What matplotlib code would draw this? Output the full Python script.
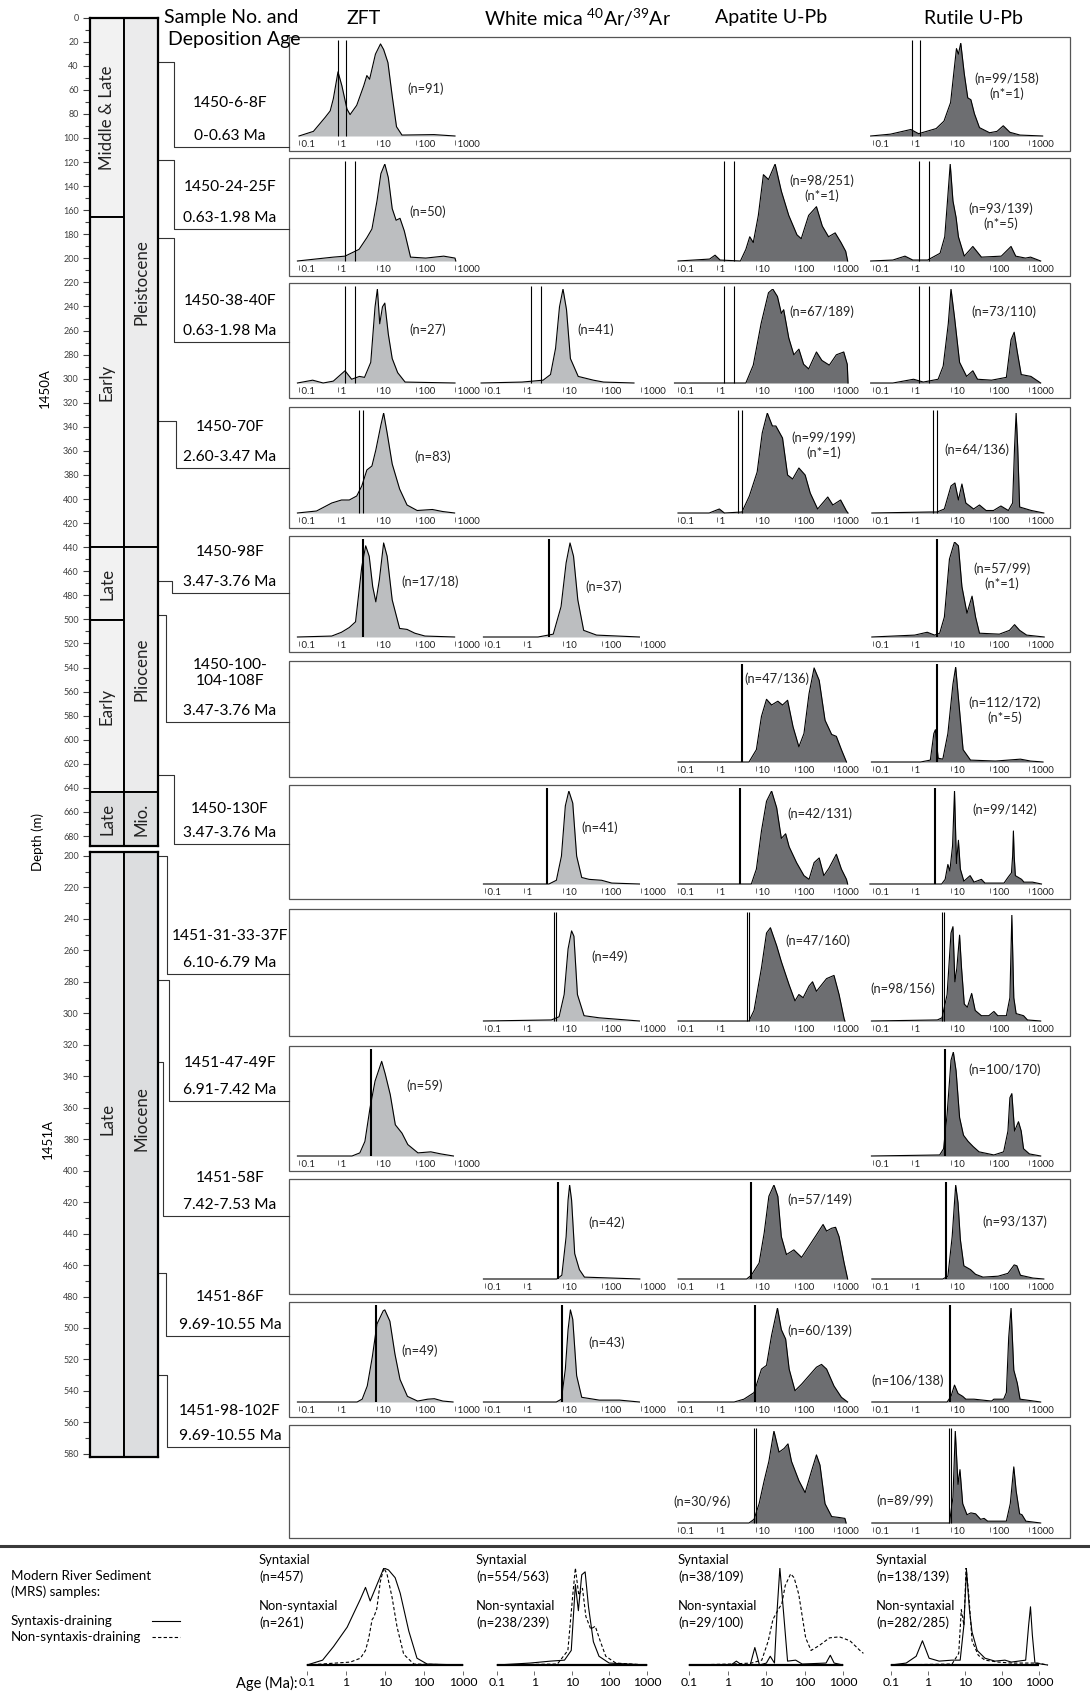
"""
Detrital age KDE panels (ZFT, white mica Ar-Ar, apatite and rutile U-Pb)
for IODP Sites 1450A / 1451A, with stratigraphic column and modern river samples.
"""

import numpy as np
import matplotlib.pyplot as plt
from matplotlib.patches import Rectangle
from matplotlib.ticker import MultipleLocator, NullLocator

plt.rcParams.update({
    "font.family": ["Lato", "DejaVu Sans"],
    "mathtext.fontset": "custom",
    "mathtext.rm": "Lato",
    "mathtext.it": "Lato:italic",
    "mathtext.bf": "Lato:bold",
})

W, H = 1090, 1692  # output pixels at dpi 100

# ------------------------------------------------------------------ data
SAMPLE_IDS = ["1450-6-8F", "1450-24-25F", "1450-38-40F", "1450-70F", "1450-98F",
              "1450-100-\n104-108F", "1450-130F", "1451-31-33-37F", "1451-47-49F",
              "1451-58F", "1451-86F", "1451-98-102F"]
DEPO_AGES = ["0-0.63 Ma", "0.63-1.98 Ma", "0.63-1.98 Ma", "2.60-3.47 Ma", "3.47-3.76 Ma",
             "3.47-3.76 Ma", "3.47-3.76 Ma", "6.10-6.79 Ma", "6.91-7.42 Ma",
             "7.42-7.53 Ma", "9.69-10.55 Ma", "9.69-10.55 Ma"]
SAMPLE_HOLE = ["1450A"] * 7 + ["1451A"] * 5
SAMPLE_DEPTH_M = [36.6, 118, 183, 335, 468, 496, 629, 200, 279, 331, 465, 530]
# vertical reference lines drawn in every panel of a row (Ma)
LAG_AGES = [[1.0, 1.6], [1.5, 2.8], [1.5, 2.8], [3.4, 4.3], [4.4], [4.3], [4.0],
            [6.0, 6.8], [7.1], [7.6], [9.3], [9.1, 10.2]]

# stratigraphy (depth, m)
EPOCH_1450A = ["Middle & Late", "Early", "Late", "Early", "Late"]
EPOCH_1450A_TOP = [0, 165.7, 440, 500.5, 643.5]
EPOCH_1450A_BASE = [165.7, 440, 500.5, 643.5, 688.3]
PERIOD_1450A = ["Pleistocene", "Pliocene", "Mio."]
PERIOD_1450A_TOP = [0, 440, 643.5]
PERIOD_1450A_BASE = [440, 643.5, 688.3]
EPOCH_1451A = ["Late"]
EPOCH_1451A_TOP = [197.5]
EPOCH_1451A_BASE = [582]
PERIOD_1451A = ["Miocene"]
LABEL_DEPTH_1451A = [367]

AGE_TICKS = [0.1, 1, 10, 100, 1000]
AGE_TICK_LABELS = ["0.1", "1", "10", "100", "1000"]

# KDE curves: (log10 age [Ma], relative density)
ZFT_1 = [(-1.0, 0), (-0.63, 0.05), (-0.33, 0.2), (-0.2, 0.27), (-0.12, 0.4), (0.0, 0.69),
         (0.1, 0.54), (0.23, 0.29), (0.31, 0.23), (0.48, 0.33), (0.66, 0.54), (0.74, 0.65),
         (0.81, 0.61), (0.96, 0.88), (1.09, 0.99), (1.17, 0.93), (1.28, 0.79), (1.39, 0.43),
         (1.5, 0.1), (1.64, 0.01), (2.46, 0.015), (3.0, 0)]
RU_1 = [(-1.06, 0), (-0.55, 0.02), (-0.03, 0.07), (0.17, 0.025), (0.62, 0.08), (0.82, 0.16),
        (0.99, 0.36), (1.08, 0.71), (1.14, 0.94), (1.19, 0.88), (1.25, 1.0), (1.34, 0.67),
        (1.43, 0.41), (1.51, 0.39), (1.6, 0.24), (1.73, 0.09), (1.99, 0.035), (2.18, 0.05),
        (2.34, 0.11), (2.51, 0.04), (2.77, 0.01), (3.35, 0)]

ZFT_2 = [(-1.04, 0), (-0.12, 0.04), (0.18, 0.05), (0.54, 0.12), (0.74, 0.24), (0.87, 0.33),
         (1.0, 0.62), (1.1, 0.9), (1.2, 1.0), (1.29, 0.86), (1.39, 0.54), (1.49, 0.42),
         (1.59, 0.44), (1.7, 0.31), (1.86, 0.04), (2.25, 0.03), (2.71, 0.05), (3.0, 0.03),
         (3.02, 0)]
AP_2 = [(-1.0, 0), (-0.19, 0.02), (-0.05, 0.06), (0.08, 0.01), (0.6, 0.0), (0.74, 0.12),
        (0.84, 0.25), (0.93, 0.19), (1.06, 0.47), (1.19, 0.89), (1.32, 0.84), (1.49, 1.0),
        (1.65, 0.72), (1.84, 0.47), (2.05, 0.27), (2.16, 0.23), (2.35, 0.47), (2.55, 0.56),
        (2.7, 0.36), (2.86, 0.25), (3.03, 0.29), (3.18, 0.19), (3.3, 0.1), (3.35, 0)]
RU_2 = [(-1.06, 0), (-0.49, 0.01), (-0.18, 0.05), (0.02, 0.01), (0.4, 0.01), (0.72, 0.08),
        (0.84, 0.25), (0.91, 0.62), (0.98, 1.0), (1.05, 0.62), (1.13, 0.45), (1.19, 0.25),
        (1.34, 0.05), (1.56, 0.15), (1.78, 0.04), (2.29, 0.05), (2.54, 0.15), (2.66, 0.05),
        (2.91, 0.03), (3.04, 0.04), (3.3, 0)]

ZFT_3 = [(-1.04, 0), (-0.65, 0.03), (-0.38, 0.0), (-0.12, 0.02), (0.18, 0.13), (0.35, 0.04),
         (0.55, 0.07), (0.68, 0.06), (0.84, 0.22), (0.95, 0.81), (1.01, 1.0), (1.07, 0.63),
         (1.14, 0.81), (1.2, 0.85), (1.29, 0.52), (1.39, 0.26), (1.53, 0.11), (1.72, 0.01),
         (3.0, 0)]
WM_3 = [(-1.1, 0), (-0.05, 0.01), (0.49, 0.03), (0.68, 0.09), (0.81, 0.37), (0.91, 0.81),
        (1.0, 1.0), (1.09, 0.78), (1.19, 0.26), (1.39, 0.07), (1.78, 0.03), (2.04, 0.01),
        (2.82, 0)]
AP_3 = [(-1.09, 0), (0.74, 0), (0.93, 0.19), (1.13, 0.63), (1.32, 0.96), (1.43, 1.0),
        (1.55, 0.92), (1.65, 0.74), (1.71, 0.78), (1.84, 0.48), (1.97, 0.3), (2.1, 0.36),
        (2.22, 0.2), (2.35, 0.15), (2.55, 0.33), (2.69, 0.24), (2.88, 0.19), (3.06, 0.3),
        (3.25, 0.33), (3.34, 0.2), (3.36, 0)]
RU_3 = [(-1.06, 0), (-0.49, 0), (0.04, 0.04), (0.29, 0.01), (0.67, 0.04), (0.8, 0.18),
        (0.93, 0.63), (1.0, 1.0), (1.09, 0.7), (1.22, 0.22), (1.4, 0.07), (1.56, 0.13),
        (1.68, 0.04), (2.04, 0.03), (2.42, 0.06), (2.54, 0.46), (2.62, 0.54), (2.7, 0.33),
        (2.8, 0.09), (3.05, 0.07), (3.3, 0)]

ZFT_4 = [(-1.04, 0), (-0.55, 0.02), (-0.16, 0.1), (0.09, 0.13), (0.29, 0.13), (0.48, 0.17),
         (0.61, 0.27), (0.74, 0.43), (0.87, 0.47), (0.97, 0.63), (1.1, 0.88), (1.17, 1.0),
         (1.26, 0.8), (1.39, 0.49), (1.58, 0.24), (1.77, 0.08), (2.03, 0.025), (2.42, 0.035),
         (2.68, 0.015), (2.99, 0)]
AP_4 = [(-1.0, 0), (-0.2, 0), (0.06, 0.04), (0.19, 0.0), (0.64, 0.01), (0.83, 0.17),
        (1.03, 0.41), (1.16, 0.8), (1.29, 1.0), (1.42, 0.87), (1.51, 0.87), (1.68, 0.75),
        (1.81, 0.38), (1.94, 0.34), (2.1, 0.45), (2.26, 0.38), (2.39, 0.2), (2.58, 0.04),
        (2.84, 0.16), (2.97, 0.08), (3.17, 0.13), (3.32, 0.02), (3.36, 0)]
RU_4 = [(-1.03, 0), (0.45, 0.01), (0.64, 0.01), (0.83, 0.04), (1.0, 0.27), (1.1, 0.3),
        (1.19, 0.13), (1.28, 0.29), (1.38, 0.1), (1.58, 0.04), (1.73, 0.08), (1.9, 0.025),
        (2.09, 0.025), (2.28, 0.07), (2.47, 0.025), (2.58, 0.1), (2.63, 0.66), (2.67, 1.0),
        (2.71, 0.66), (2.76, 0.06), (3.06, 0.025), (3.38, 0)]

ZFT_5 = [(-1.04, 0), (-0.16, 0.01), (0.09, 0.05), (0.29, 0.1), (0.45, 0.16), (0.61, 0.74),
         (0.71, 0.96), (0.8, 0.85), (0.89, 0.53), (0.97, 0.37), (1.06, 0.6), (1.17, 0.99),
         (1.26, 0.85), (1.39, 0.39), (1.58, 0.09), (1.77, 0.08), (1.97, 0.04), (2.23, 0.01),
         (2.99, 0)]
WM_5 = [(-1.04, 0), (0.36, 0), (0.75, 0.03), (0.95, 0.32), (1.08, 0.78), (1.18, 0.99),
        (1.27, 0.85), (1.38, 0.39), (1.53, 0.07), (1.86, 0.02), (2.96, 0)]
RU_5 = [(-1.03, 0), (0.07, 0.02), (0.39, 0.05), (0.58, 0.02), (0.71, 0.04), (0.83, 0.21),
        (0.96, 0.82), (1.09, 1.0), (1.19, 0.96), (1.28, 0.53), (1.41, 0.25), (1.54, 0.43),
        (1.63, 0.21), (1.73, 0.04), (2.24, 0.03), (2.5, 0.07), (2.63, 0.13), (2.76, 0.07),
        (2.94, 0.02), (3.39, 0)]

AP_6 = [(-1.0, 0), (0.82, 0), (1.01, 0.13), (1.14, 0.48), (1.27, 0.66), (1.4, 0.6),
        (1.56, 0.64), (1.68, 0.6), (1.81, 0.65), (1.95, 0.37), (2.1, 0.16), (2.23, 0.3),
        (2.36, 0.72), (2.49, 0.99), (2.62, 0.86), (2.77, 0.44), (2.94, 0.29), (3.06, 0.27),
        (3.19, 0.13), (3.32, 0)]
RU_6 = [(-1.04, 0), (0.22, 0), (0.47, 0.02), (0.56, 0.3), (0.6, 0.34), (0.67, 0.04),
        (0.79, 0.03), (0.92, 0.3), (1.05, 0.82), (1.12, 1.0), (1.18, 0.72), (1.31, 0.13),
        (1.5, 0.02), (2.14, 0.01), (2.78, 0.03), (3.04, 0.01), (3.36, 0)]

WM_7 = [(-1.04, 0), (0.64, 0), (0.83, 0.04), (0.96, 0.3), (1.06, 0.84), (1.15, 1.0),
        (1.25, 0.87), (1.35, 0.3), (1.48, 0.07), (1.67, 0.05), (1.99, 0.04), (2.25, 0.01),
        (2.96, 0)]
AP_7 = [(-1.0, 0), (0.88, 0), (1.01, 0.16), (1.14, 0.57), (1.27, 0.89), (1.4, 1.0),
        (1.53, 0.82), (1.65, 0.49), (1.76, 0.54), (1.85, 0.4), (2.04, 0.23), (2.23, 0.09),
        (2.36, 0.05), (2.49, 0.23), (2.62, 0.28), (2.74, 0.09), (2.87, 0.17), (3.06, 0.32),
        (3.19, 0.16), (3.32, 0.05), (3.35, 0)]
RU_7 = [(-1.08, 0), (0.76, 0), (0.85, 0.05), (0.92, 0.21), (0.97, 0.14), (1.04, 0.41),
        (1.09, 1.0), (1.14, 0.22), (1.19, 0.47), (1.24, 0.16), (1.33, 0.03), (1.49, 0.09),
        (1.59, 0.02), (1.78, 0.05), (1.87, 0.01), (2.36, 0.01), (2.46, 0.07), (2.55, 0.12),
        (2.58, 0.3), (2.6, 0.57), (2.62, 0.3), (2.65, 0.09), (2.81, 0.05), (2.87, 0.02),
        (3.09, 0.02), (3.32, 0)]

WM_8 = [(-1.04, 0), (0.7, 0.01), (0.9, 0.04), (1.03, 0.25), (1.13, 0.68), (1.22, 0.85),
        (1.28, 0.8), (1.37, 0.25), (1.54, 0.05), (1.93, 0.03), (2.96, 0)]
AP_8 = [(-1.0, 0), (0.82, 0), (0.95, 0.1), (1.14, 0.5), (1.27, 0.83), (1.37, 0.88),
        (1.53, 0.71), (1.65, 0.56), (1.85, 0.34), (2.0, 0.19), (2.1, 0.25), (2.21, 0.22),
        (2.36, 0.33), (2.45, 0.37), (2.55, 0.28), (2.68, 0.34), (2.81, 0.4), (3.0, 0.43),
        (3.13, 0.25), (3.26, 0.02), (3.28, 0)]
RU_8 = [(-1.04, 0), (0.65, 0.01), (0.77, 0.03), (0.9, 0.25), (1.0, 0.83), (1.05, 0.89),
        (1.1, 0.37), (1.15, 0.5), (1.22, 0.81), (1.27, 0.5), (1.34, 0.16), (1.42, 0.13),
        (1.53, 0.26), (1.62, 0.1), (1.78, 0.05), (1.97, 0.05), (2.1, 0.09), (2.2, 0.05),
        (2.42, 0.05), (2.51, 0.22), (2.56, 1.0), (2.61, 0.22), (2.67, 0.07), (2.86, 0.05),
        (2.96, 0.01), (3.3, 0)]

ZFT_9 = [(-1.04, 0), (0.36, 0), (0.56, 0.03), (0.69, 0.14), (0.82, 0.46), (0.95, 0.72),
         (1.12, 0.91), (1.21, 0.79), (1.34, 0.59), (1.47, 0.3), (1.64, 0.22), (1.79, 0.11),
         (2.05, 0.03), (2.38, 0.04), (2.64, 0.02), (2.96, 0)]
RU_9 = [(-1.04, 0), (0.71, 0.01), (0.81, 0.07), (0.9, 0.4), (1.0, 0.92), (1.06, 1.0),
        (1.13, 0.82), (1.22, 0.37), (1.32, 0.2), (1.44, 0.14), (1.57, 0.09), (1.72, 0.04),
        (2.1, 0.01), (2.35, 0.04), (2.46, 0.24), (2.51, 0.56), (2.56, 0.6), (2.63, 0.24),
        (2.73, 0.33), (2.8, 0.24), (2.86, 0.07), (3.01, 0.02), (3.3, 0)]

WM_10 = [(-1.04, 0), (0.84, 0), (0.97, 0.04), (1.08, 0.45), (1.13, 0.84), (1.17, 1.0),
         (1.22, 0.84), (1.3, 0.27), (1.42, 0.1), (1.55, 0.02), (2.97, 0)]
AP_10 = [(-1.0, 0), (0.76, 0), (0.88, 0.04), (1.08, 0.17), (1.21, 0.49), (1.33, 0.88),
         (1.46, 1.0), (1.56, 0.88), (1.65, 0.45), (1.78, 0.26), (1.97, 0.31), (2.17, 0.23),
         (2.36, 0.35), (2.55, 0.47), (2.72, 0.58), (2.81, 0.51), (2.94, 0.54), (3.04, 0.55),
         (3.13, 0.45), (3.26, 0.17), (3.35, 0)]
RU_10 = [(-1.03, 0), (0.79, 0), (0.92, 0.03), (1.03, 0.45), (1.12, 1.0), (1.18, 0.81),
         (1.24, 0.42), (1.33, 0.14), (1.5, 0.1), (1.63, 0.05), (1.82, 0.02), (2.21, 0.03),
         (2.46, 0.06), (2.62, 0.15), (2.69, 0.14), (2.78, 0.04), (3.1, 0.01), (3.38, 0)]

ZFT_11 = [(-1.04, 0), (0.49, 0), (0.62, 0.03), (0.75, 0.17), (0.88, 0.48), (1.0, 0.83),
          (1.16, 0.97), (1.2, 0.98), (1.33, 0.86), (1.46, 0.51), (1.59, 0.24), (1.78, 0.06),
          (2.04, 0.01), (2.3, 0.03), (2.47, 0.035), (2.69, 0.01), (2.95, 0)]
WM_11 = [(-1.04, 0), (0.83, 0), (0.96, 0.03), (1.06, 0.35), (1.13, 0.77), (1.19, 0.98),
         (1.25, 0.88), (1.35, 0.28), (1.48, 0.05), (1.93, 0.02), (2.45, 0.02), (2.96, 0)]
AP_11 = [(-1.0, 0), (0.44, 0), (0.69, 0.03), (0.95, 0.1), (1.14, 0.35), (1.27, 0.39),
         (1.4, 0.71), (1.55, 1.0), (1.65, 0.77), (1.76, 0.67), (1.85, 0.35), (2.0, 0.12),
         (2.17, 0.19), (2.36, 0.28), (2.55, 0.37), (2.68, 0.4), (2.81, 0.35), (3.0, 0.17),
         (3.19, 0.05), (3.35, 0)]
RU_11 = [(-1.03, 0), (0.9, 0), (1.0, 0.06), (1.09, 0.18), (1.18, 0.09), (1.3, 0.06),
         (1.38, 0.03), (1.59, 0.03), (2.04, 0.01), (2.1, 0.03), (2.35, 0.03), (2.42, 0.1),
         (2.48, 0.69), (2.54, 1.0), (2.61, 0.34), (2.7, 0.2), (2.77, 0.03), (3.3, 0)]

AP_12 = [(-1.0, 0), (0.82, 0), (0.95, 0.04), (1.08, 0.21), (1.21, 0.46), (1.33, 0.67),
         (1.46, 1.0), (1.59, 0.77), (1.72, 0.81), (1.82, 0.86), (1.91, 0.67), (2.1, 0.46),
         (2.26, 0.33), (2.42, 0.56), (2.55, 0.74), (2.64, 0.63), (2.77, 0.21), (2.94, 0.07),
         (3.13, 0.06), (3.28, 0.05), (3.31, 0)]
RU_12 = [(-1.03, 0), (0.96, 0), (1.05, 0.28), (1.11, 1.0), (1.18, 0.42), (1.23, 0.58),
         (1.3, 0.21), (1.41, 0.09), (1.51, 0.11), (1.63, 0.1), (1.76, 0.04), (1.85, 0.05),
         (1.94, 0.02), (2.42, 0.02), (2.52, 0.21), (2.61, 0.61), (2.67, 0.35), (2.76, 0.1),
         (2.82, 0.09), (2.92, 0.02), (3.3, 0)]

# modern river sediment: syntaxis-draining (solid) / non-syntaxis (dashed)
MRS_ZFT_SYN = [(-1.0, 0), (-0.6, 0.05), (-0.32, 0.19), (0.03, 0.39), (0.37, 0.68), (0.5, 0.8),
               (0.62, 0.66), (0.97, 1.0), (1.09, 0.98), (1.26, 0.9), (1.39, 0.74),
               (1.61, 0.35), (1.82, 0.07), (2.08, 0.01), (3.0, 0)]
MRS_ZFT_NON = [(-1.0, 0), (0.11, 0.03), (0.37, 0.07), (0.5, 0.15), (0.58, 0.27), (0.67, 0.47),
               (0.71, 0.49), (0.79, 0.58), (0.88, 0.86), (0.97, 1.0), (1.05, 0.94),
               (1.18, 0.7), (1.31, 0.39), (1.48, 0.11), (1.74, 0.01), (3.0, 0)]
MRS_WM_SYN = [(-1.0, 0), (-0.12, 0.02), (0.43, 0.04), (0.8, 0.05), (0.98, 0.15), (1.09, 0.83),
              (1.17, 0.56), (1.26, 0.93), (1.35, 0.96), (1.44, 0.6), (1.57, 0.24),
              (1.72, 0.09), (1.99, 0.02), (3.0, 0)]
MRS_WM_NON = [(-1.0, 0), (0.61, 0.01), (0.89, 0.15), (1.02, 0.72), (1.09, 1.0), (1.18, 0.72),
              (1.28, 0.79), (1.37, 0.5), (1.5, 0.37), (1.62, 0.4), (1.75, 0.25), (1.9, 0.09),
              (2.17, 0.02), (3.0, 0)]
MRS_AP_SYN = [(-1.0, 0), (0.09, 0), (0.23, 0.04), (0.37, 0), (0.59, 0), (0.71, 0.18), (0.83, 0),
              (1.01, 0.02), (1.11, 0.09), (1.22, 0.02), (1.29, 0.57), (1.36, 1.0),
              (1.45, 0.57), (1.56, 0.04), (1.77, 0.05), (1.94, 0.01), (2.56, 0.02),
              (2.67, 0.1), (2.77, 0.02), (3.0, 0)]
MRS_AP_NON = [(-1.0, 0), (0.09, 0.01), (0.62, 0.02), (0.89, 0.05), (1.06, 0.25), (1.18, 0.47),
              (1.33, 0.58), (1.41, 0.63), (1.5, 0.82), (1.64, 0.94), (1.73, 0.9),
              (1.85, 0.73), (2.03, 0.28), (2.17, 0.15), (2.38, 0.2), (2.65, 0.28),
              (2.91, 0.29), (3.18, 0.25), (3.44, 0.15), (3.53, 0.12)]
MRS_RU_SYN = [(-1.0, 0), (-0.59, 0.02), (-0.32, 0.09), (-0.15, 0.25), (0.03, 0.07), (0.3, 0.04),
              (0.65, 0.05), (0.87, 0.05), (0.97, 0.41), (1.04, 0.98), (1.12, 0.57),
              (1.19, 0.34), (1.33, 0.15), (1.54, 0.07), (1.81, 0.04), (2.08, 0.05),
              (2.25, 0.03), (2.64, 0.05), (2.72, 0.41), (2.77, 0.6), (2.82, 0.31),
              (2.89, 0.02), (3.23, 0)]
MRS_RU_NON = [(-1.0, 0), (0.65, 0.01), (0.83, 0.12), (0.9, 0.57), (0.97, 0.41), (1.03, 1.0),
              (1.1, 0.73), (1.19, 0.25), (1.36, 0.1), (1.54, 0.05), (1.9, 0.03),
              (2.25, 0.02), (2.96, 0.02), (3.23, 0)]

MRS_SYN_N = ["(n=457)", "(n=554/563)", "(n=38/109)", "(n=138/139)"]
MRS_NON_N = ["(n=261)", "(n=238/239)", "(n=29/100)", "(n=282/285)"]

# per-row curves and counts, one list per method
ZFT_ROWS = [ZFT_1, ZFT_2, ZFT_3, ZFT_4, ZFT_5, None, None, None, ZFT_9, None, ZFT_11, None]
WM_ROWS = [None, None, WM_3, None, WM_5, None, WM_7, WM_8, None, WM_10, WM_11, None]
AP_ROWS = [None, AP_2, AP_3, AP_4, None, AP_6, AP_7, AP_8, None, AP_10, AP_11, AP_12]
RU_ROWS = [RU_1, RU_2, RU_3, RU_4, RU_5, RU_6, RU_7, RU_8, RU_9, RU_10, RU_11, RU_12]

ZFT_N = ["(n=91)", "(n=50)", "(n=27)", "(n=83)", "(n=17/18)", None, None, None,
         "(n=59)", None, "(n=49)", None]
WM_N = [None, None, "(n=41)", None, "(n=37)", None, "(n=41)", "(n=49)", None,
        "(n=42)", "(n=43)", None]
AP_N = [None, "(n=98/251)\n(n*=1)", "(n=67/189)", "(n=99/199)\n(n*=1)", None, "(n=47/136)",
        "(n=42/131)", "(n=47/160)", None, "(n=57/149)", "(n=60/139)", "(n=30/96)"]
RU_N = ["(n=99/158)\n(n*=1)", "(n=93/139)\n(n*=5)", "(n=73/110)", "(n=64/136)",
        "(n=57/99)\n(n*=1)", "(n=112/172)\n(n*=5)", "(n=99/142)", "(n=98/156)",
        "(n=100/170)", "(n=93/137)", "(n=106/138)", "(n=89/99)"]

# ------------------------------------------------------------------ layout (pixels)
ROW_TOP = [37, 158, 283, 407, 536, 661, 785, 909, 1046, 1179, 1302, 1425]
ROW_BOTTOM = [151, 276, 398, 528, 652, 777, 899, 1036, 1171, 1294, 1417, 1538]
ROW_LINE_Y = [147, 229, 342, 468, 593, 722, 844, 974, 1101, 1216, 1336, 1447]
ROW_VERT_X = [174, 174, 174, 176, 172, 166, 174, 167, 169, 163, 166, 167]
LABEL_GAP = [33, 31, 30, 30, 30, 38, 24, 27, 27, 27, 28, 25]
BOX_LEFT, BOX_RIGHT = 289, 1070
COL_LEFT, COL_RIGHT = 90, 158

PANEL_X0 = {"ZFT": 299, "WM": 485, "AP": 678, "RU": 873}   # pixel of 0.1 Ma
DECADE = 39
LOG_LO, LOG_HI = -1.35, 3.65

N_POS = {
    "ZFT": [(426, 89), (428, 212), (428, 330), (433, 457), (430, 582), None, None, None,
            (425, 1086), None, (420, 1351), None],
    "WM": [None, None, (596, 330), None, (604, 587), None, (600, 828), (610, 957), None,
           (607, 1223), (607, 1343), None],
    "AP": [None, (822, 188), (822, 312), (824, 445), None, (777, 679), (820, 814),
           (818, 941), None, (820, 1200), (820, 1331), (702, 1502)],
    "RU": [(1007, 86), (1001, 216), (1004, 312), (977, 450), (1002, 576), (1005, 710),
           (1005, 810), (903, 989), (1005, 1070), (1015, 1222), (908, 1381), (905, 1501)],
}

MRS_X0 = [307, 497, 689, 891]
MRS_DEC = [39, 37.5, 38.5, 37]
MRS_TEXT_X = [259, 476, 678, 876]
MRS_BASE, MRS_TOP = 1665, 1568

LIGHT = "#bcbec0"
DARK = "#6d6e71"

fig = plt.figure(figsize=(W / 100, H / 100), dpi=100)
bg = fig.add_axes([0, 0, 1, 1], zorder=0)
bg.set_xlim(0, W)
bg.set_ylim(H, 0)
bg.axis("off")


def px_axes(x0, y0, x1, y1, z=2):
    ax = fig.add_axes([x0 / W, 1 - y1 / H, (x1 - x0) / W, (y1 - y0) / H], zorder=z)
    ax.patch.set_alpha(0)
    return ax


# ------------------------------------------------------------------ stratigraphic columns
def strat_column(y_top, y_bot, d_top, d_bot, epochs, e_top, e_base, periods, p_top, p_base,
                 e_colors, p_colors, label_depths=None):
    ax = px_axes(COL_LEFT, y_top, COL_RIGHT, y_bot)
    ax.set_xlim(0, 2)
    ax.set_ylim(d_bot, d_top)
    for i, (lab, t, b) in enumerate(zip(epochs, e_top, e_base)):
        ax.add_patch(Rectangle((0, t), 1, b - t, facecolor=e_colors[i],
                               edgecolor="black", lw=1.4))
        yc = label_depths[i] if label_depths else (t + b) / 2
        ax.text(0.5, yc, lab, rotation=90, ha="center", va="center", fontsize=12.2,
                color="#222222")
    for i, (lab, t, b) in enumerate(zip(periods, p_top, p_base)):
        ax.add_patch(Rectangle((1, t), 1, b - t, facecolor=p_colors[i],
                               edgecolor="black", lw=1.4))
        yc = label_depths[i] if label_depths else (t + b) / 2
        ax.text(1.5, yc, lab, rotation=90, ha="center", va="center", fontsize=12.2,
                color="#222222")
    ax.set_xticks([])
    ax.yaxis.set_major_locator(MultipleLocator(20))
    ax.yaxis.set_minor_locator(MultipleLocator(10))
    ax.tick_params(axis="y", which="major", length=5, width=0.8, colors="#404040",
                   labelsize=6.5, pad=3)
    ax.tick_params(axis="y", which="minor", length=3.5, width=0.8, colors="#404040")
    for s in ax.spines.values():
        s.set_linewidth(1.6)
    return ax


col_a = strat_column(17.6, 846, 0, 688.3, EPOCH_1450A, EPOCH_1450A_TOP, EPOCH_1450A_BASE,
                     PERIOD_1450A, PERIOD_1450A_TOP, PERIOD_1450A_BASE,
                     ["#f2f2f2", "#f2f2f2", "#f2f2f2", "#f2f2f2", "#dedfe0"],
                     ["#ebebec", "#ebebec", "#dedfe0"])
col_b = strat_column(852, 1457, 197.5, 582, EPOCH_1451A, EPOCH_1451A_TOP, EPOCH_1451A_BASE,
                     PERIOD_1451A, EPOCH_1451A_TOP, EPOCH_1451A_BASE,
                     ["#e6e7e8"], ["#dcdddf"], LABEL_DEPTH_1451A)

bg.text(45, 388, "1450A", rotation=90, ha="center", va="center", fontsize=9.5)
bg.text(38, 842, "Depth (m)", rotation=90, ha="center", va="center", fontsize=9.5)
bg.text(48, 1139, "1451A", rotation=90, ha="center", va="center", fontsize=9.5)

# ------------------------------------------------------------------ headers
bg.text(164, 18, "Sample No. and", ha="left", va="center", fontsize=14)
bg.text(168, 39, "Deposition Age", ha="left", va="center", fontsize=14)
bg.text(364, 18, "ZFT", ha="center", va="center", fontsize=14)
bg.text(578, 18, "White mica $^{40}$Ar/$^{39}$Ar", ha="center", va="center", fontsize=14)
bg.text(771, 18, "Apatite U-Pb", ha="center", va="center", fontsize=14)
bg.text(974, 18, "Rutile U-Pb", ha="center", va="center", fontsize=14)


# ------------------------------------------------------------------ rows
def kde_panel(row, key, curve, fill):
    top_px = ROW_TOP[row] + 6
    base_px = ROW_BOTTOM[row] - 15
    ax_bot = base_px + 4
    x0 = PANEL_X0[key]
    ax = px_axes(x0 + (LOG_LO + 1) * DECADE, top_px, x0 + (LOG_HI + 1) * DECADE, ax_bot)
    ax.set_xscale("log")
    ax.set_xlim(10 ** LOG_LO, 10 ** LOG_HI)
    ax.set_ylim(-4 / (base_px - top_px), 1.0)
    pts = np.array(curve)
    ages = np.power(10.0, pts[:, 0])
    ax.fill_between(ages, 0, pts[:, 1], color=fill, lw=0)
    ax.plot(ages, pts[:, 1], color="black", lw=0.8, solid_joinstyle="round")
    lags = LAG_AGES[row]
    ax.vlines(lags, 0, 1.03, color="black", lw=0.8 if len(lags) > 1 else 1.5,
              clip_on=False)
    ax.set_xticks(AGE_TICKS, [" " + s for s in AGE_TICK_LABELS], ha="left")
    ax.xaxis.set_minor_locator(NullLocator())
    ax.tick_params(axis="x", direction="out", length=3.5, width=0.6, color="#555555",
                   pad=-3.5, labelsize=7, labelcolor="#222222")
    ax.set_yticks([])
    for s in ax.spines.values():
        s.set_visible(False)


for r in range(len(SAMPLE_IDS)):
    top, bot = ROW_TOP[r], ROW_BOTTOM[r]
    bg.add_patch(Rectangle((BOX_LEFT, top), BOX_RIGHT - BOX_LEFT, bot - top, fill=False,
                           edgecolor="#555555", lw=0.9))

    # connector from core depth to the sample label
    col = col_a if SAMPLE_HOLE[r] == "1450A" else col_b
    y_d = H - col.transData.transform((0, SAMPLE_DEPTH_M[r]))[1]
    xv, ly = ROW_VERT_X[r], ROW_LINE_Y[r]
    bg.plot([COL_RIGHT, xv, xv, BOX_LEFT], [y_d, y_d, ly, ly], color="#333333", lw=0.8)

    bg.text(230, ly - 11, DEPO_AGES[r], ha="center", va="center", fontsize=11.2)
    bg.text(230, ly - 11 - LABEL_GAP[r], SAMPLE_IDS[r], ha="center", va="center",
            fontsize=11.2, linespacing=1.25)

    for key, rows, labels, fill in (("ZFT", ZFT_ROWS, ZFT_N, LIGHT),
                                    ("WM", WM_ROWS, WM_N, LIGHT),
                                    ("AP", AP_ROWS, AP_N, DARK),
                                    ("RU", RU_ROWS, RU_N, DARK)):
        if rows[r] is None:
            continue
        kde_panel(r, key, rows[r], fill)
        nx, ny = N_POS[key][r]
        bg.text(nx, ny, labels[r], ha="center", va="center", fontsize=9.3,
                linespacing=1.2, color="#222222", zorder=5)

# ------------------------------------------------------------------ modern river sediment
bg.plot([0, W], [1546, 1546], color="#3a3a3a", lw=2.2)
bg.text(11, 1576, "Modern River Sediment", ha="left", va="center", fontsize=9.6)
bg.text(11, 1592, "(MRS) samples:", ha="left", va="center", fontsize=9.6)
bg.text(11, 1621, "Syntaxis-draining", ha="left", va="center", fontsize=9.6)
bg.text(11, 1637, "Non-syntaxis-draining", ha="left", va="center", fontsize=9.6)
bg.plot([152, 180], [1621, 1621], color="black", lw=0.8)
bg.plot([152, 180], [1637, 1637], color="black", lw=0.8, ls=(0, (3, 2)))
bg.text(298, 1683, "Age (Ma):", ha="right", va="center", fontsize=10.5)

MRS_CURVES = [(MRS_ZFT_SYN, MRS_ZFT_NON), (MRS_WM_SYN, MRS_WM_NON),
              (MRS_AP_SYN, MRS_AP_NON), (MRS_RU_SYN, MRS_RU_NON)]

for i, (syn, non) in enumerate(MRS_CURVES):
    x0, dec = MRS_X0[i], MRS_DEC[i]
    ax_bot = MRS_BASE + 6
    ax = px_axes(x0 + (LOG_LO + 1) * dec, MRS_TOP, x0 + (LOG_HI + 1) * dec, ax_bot)
    ax.set_xscale("log")
    ax.set_xlim(10 ** LOG_LO, 10 ** LOG_HI)
    ax.set_ylim(-6 / (MRS_BASE - MRS_TOP), 1.0)
    ax.hlines(0, AGE_TICKS[0], AGE_TICKS[-1], color="black", lw=1.6)
    s = np.array(syn)
    n = np.array(non)
    ax.plot(np.power(10.0, s[:, 0]), s[:, 1], color="black", lw=0.8)
    ax.plot(np.power(10.0, n[:, 0]), n[:, 1], color="black", lw=0.8, ls=(0, (3, 2)))
    ax.set_xticks(AGE_TICKS, AGE_TICK_LABELS)
    ax.xaxis.set_minor_locator(NullLocator())
    ax.tick_params(axis="x", direction="out", length=3, width=0.6, color="#555555",
                   pad=1.5, labelsize=8.8)
    ax.set_yticks([])
    for sp in ax.spines.values():
        sp.set_visible(False)

    tx = MRS_TEXT_X[i]
    bg.text(tx, 1560, "Syntaxial", ha="left", va="center", fontsize=9.4)
    bg.text(tx, 1577, MRS_SYN_N[i], ha="left", va="center", fontsize=9.4)
    bg.text(tx, 1606, "Non-syntaxial", ha="left", va="center", fontsize=9.4)
    bg.text(tx, 1623, MRS_NON_N[i], ha="left", va="center", fontsize=9.4)

fig.savefig("out.png", dpi=100)
